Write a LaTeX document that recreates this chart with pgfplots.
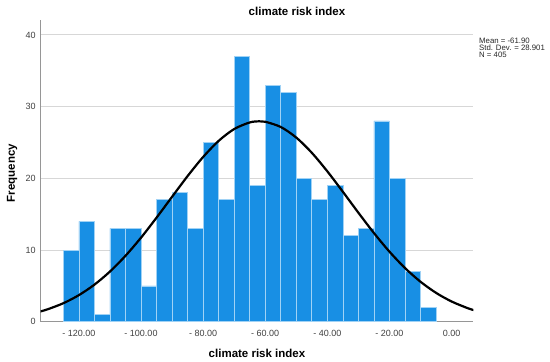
\documentclass[border=0pt]{standalone}
\usepackage{pgfplots}
\pgfplotsset{compat=1.18}
\usepackage{fontspec}
\setmainfont{Liberation Sans}
\definecolor{barblue}{RGB}{24,143,228}
\definecolor{baredge}{RGB}{160,210,245}
\definecolor{gridgray}{RGB}{215,215,215}
\definecolor{axisgray}{RGB}{150,150,150}
\begin{document}
\begin{tikzpicture}
\path[use as bounding box] (0pt,0pt) rectangle (550pt,362pt);
\begin{axis}[
  at={(40.7pt,40.3pt)}, anchor=south west,
  scale only axis, width=432.6pt, height=301.7pt,
  xmin=-132.3, xmax=7, ymin=0, ymax=42.08,
  axis x line=bottom, axis y line=left,
  axis line style={-, draw=axisgray, line width=0.9pt},
  major tick length=0pt,
  xtick={-120,-100,-80,-60,-40,-20,0},
  xticklabels={- 120.00,- 100.00,- 80.00,- 60.00,- 40.00,- 20.00,0.00},
  ytick={0,10,20,30,40},
  ymajorgrids, grid style={draw=gridgray, line width=0.9pt},
  tick label style={font=\fontsize{9}{10}\selectfont, text=black!75},
  xticklabel style={yshift=-4.5pt},
  yticklabel style={xshift=-1.5pt},
  /pgf/number format/assume math mode=true,
  clip=true,
]
\addplot[ybar interval, fill=barblue, draw=baredge, line width=0.7pt] coordinates {
(-125,10) (-120,14) (-115,1) (-110,13) (-105,13) (-100,5) (-95,17) (-90,18)
(-85,13) (-80,25) (-75,17) (-70,37) (-65,19) (-60,33) (-55,32) (-50,20)
(-45,17) (-40,19) (-35,12) (-30,13) (-25,28) (-20,20) (-15,7) (-10,2) (-5,2)
};
\addplot[black, line width=2.2pt, smooth, no marks] coordinates {
(-134,1.245) (-132.3,1.439) (-130,1.741) (-125,2.578) (-120,3.706) (-115,5.168)
(-110,6.996) (-105,9.193) (-100,11.72) (-95,14.51) (-90,17.42) (-85,20.31)
(-80,22.97) (-75,25.22) (-70,26.87) (-65,27.79) (-61.9,27.95) (-60,27.89)
(-55,27.16) (-50,25.68) (-45,23.56) (-40,20.97) (-35,18.12) (-30,15.20)
(-25,12.37) (-20,9.771) (-15,7.490) (-10,5.573) (-5,4.025) (0,2.820)
(5,1.918) (7,1.631) (9,1.38)
};
\end{axis}
\node[font=\bfseries\fontsize{11.5}{13}\selectfont] at (297pt,351pt) {climate risk index};
\node[font=\bfseries\fontsize{11.5}{13}\selectfont] at (257pt,9pt) {climate risk index};
\node[rotate=90, font=\bfseries\fontsize{11.5}{13}\selectfont] at (12pt,189pt) {Frequency};
\node[anchor=north west, align=left, inner sep=0pt, font=\fontsize{7.8}{7.3}\selectfont, text=black!85] at (479pt,324.5pt) {Mean = -61.90\\Std. Dev. = 28.901\\N = 405};
\end{tikzpicture}
\end{document}
